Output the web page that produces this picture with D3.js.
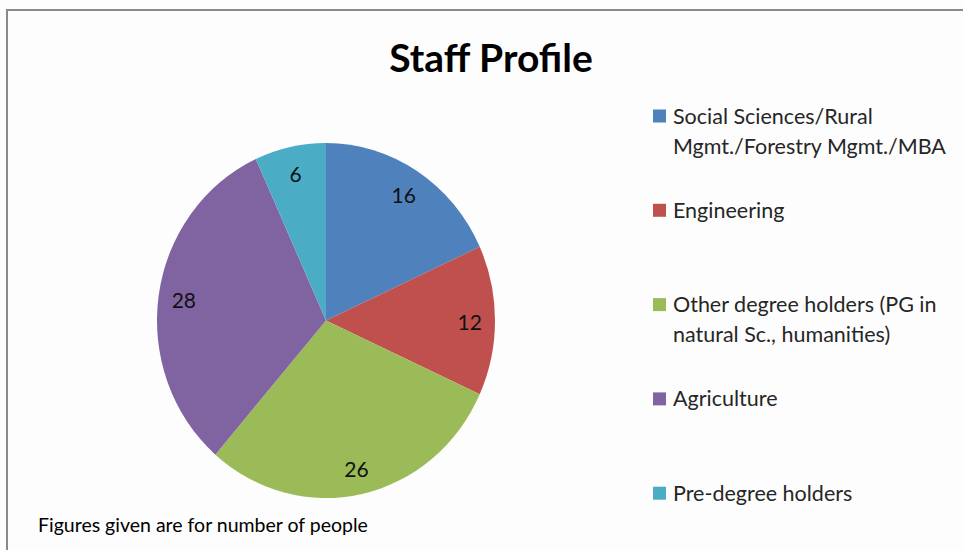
<!DOCTYPE html>
<html>
<head>
<meta charset="utf-8">
<script src="https://cdn.jsdelivr.net/npm/d3@7"></script>
<style>
  body { margin: 0; background: #fdfdfd; }
  text { font-family: Lato, "Open Sans", sans-serif; }
</style>
</head>
<body>
<div id="chart"></div>
<script>
// Staff Profile - pie chart of staff by qualification

const categories = [
    'Social Sciences/Rural Mgmt./Forestry Mgmt./MBA',
    'Engineering',
    'Other degree holders (PG in natural Sc., humanities)',
    'Agriculture',
    'Pre-degree holders'
];
const legendLines = [
    ['Social Sciences/Rural', 'Mgmt./Forestry Mgmt./MBA'],
    ['Engineering'],
    ['Other degree holders (PG in', 'natural Sc., humanities)'],
    ['Agriculture'],
    ['Pre-degree holders']
];
const values = [16, 12, 26, 28, 6];
const colors = ['#4f81bd', '#c0504d', '#9bbb59', '#8064a2', '#4bacc6'];

const W = 963, H = 550;
const cx = 326, cy = 320.5;
const rx = 169, ry = 177.5;

const svg = d3.select('#chart')
    .append('svg')
    .attr('width', W)
    .attr('height', H);

// frame
svg.append('rect')
    .attr('x', 7)
    .attr('y', 10)
    .attr('width', W + 10)
    .attr('height', H + 10)
    .attr('fill', '#fdfdfd')
    .attr('stroke', '#8a8a8a')
    .attr('stroke-width', 2);

// title
svg.append('text')
    .attr('x', 491)
    .attr('y', 72)
    .attr('text-anchor', 'middle')
    .style('font-size', '39px')
    .style('font-weight', 'bold')
    .attr('fill', '#000')
    .text('Staff Profile');

// pie (slightly taller than wide, like the original)
const pie = d3.pie().sort(null).value(d => d);
const arcs = pie(values);
const arc = d3.arc().innerRadius(0).outerRadius(rx);
const labelArc = d3.arc().innerRadius(rx * 0.85).outerRadius(rx * 0.85);

const g = svg.append('g')
    .attr('transform', `translate(${cx},${cy}) scale(1,${ry / rx})`);

g.selectAll('path')
    .data(arcs)
    .enter()
    .append('path')
    .attr('d', arc)
    .attr('fill', (d, i) => colors[i]);

svg.append('g')
    .attr('transform', `translate(${cx},${cy})`)
    .selectAll('text')
    .data(arcs)
    .enter()
    .append('text')
    .attr('x', d => labelArc.centroid(d)[0])
    .attr('y', d => labelArc.centroid(d)[1] * ry / rx + 2)
    .attr('dy', '0.35em')
    .attr('text-anchor', 'middle')
    .style('font-size', '21px')
    .attr('fill', '#111')
    .text(d => d.data);

// legend
const legend = svg.append('g')
    .attr('transform', 'translate(653,0)');

const item = legend.selectAll('g')
    .data(categories)
    .enter()
    .append('g')
    .attr('transform', (d, i) => `translate(0,${116 + i * 94.3})`);

item.append('rect')
    .attr('x', 0)
    .attr('y', -6.5)
    .attr('width', 13)
    .attr('height', 13)
    .attr('fill', (d, i) => colors[i]);

item.each(function (d, i) {
    d3.select(this).selectAll('text')
        .data(legendLines[i])
        .enter()
        .append('text')
        .attr('x', 20)
        .attr('y', (t, j) => 7.5 + j * 30)
        .style('font-size', '21.5px')
        .attr('fill', '#262626')
        .text(t => t);
});

// footnote
svg.append('text')
    .attr('x', 38)
    .attr('y', 532)
    .style('font-size', '19.5px')
    .attr('fill', '#000')
    .text('Figures given are for number of people');
</script>
</body>
</html>
